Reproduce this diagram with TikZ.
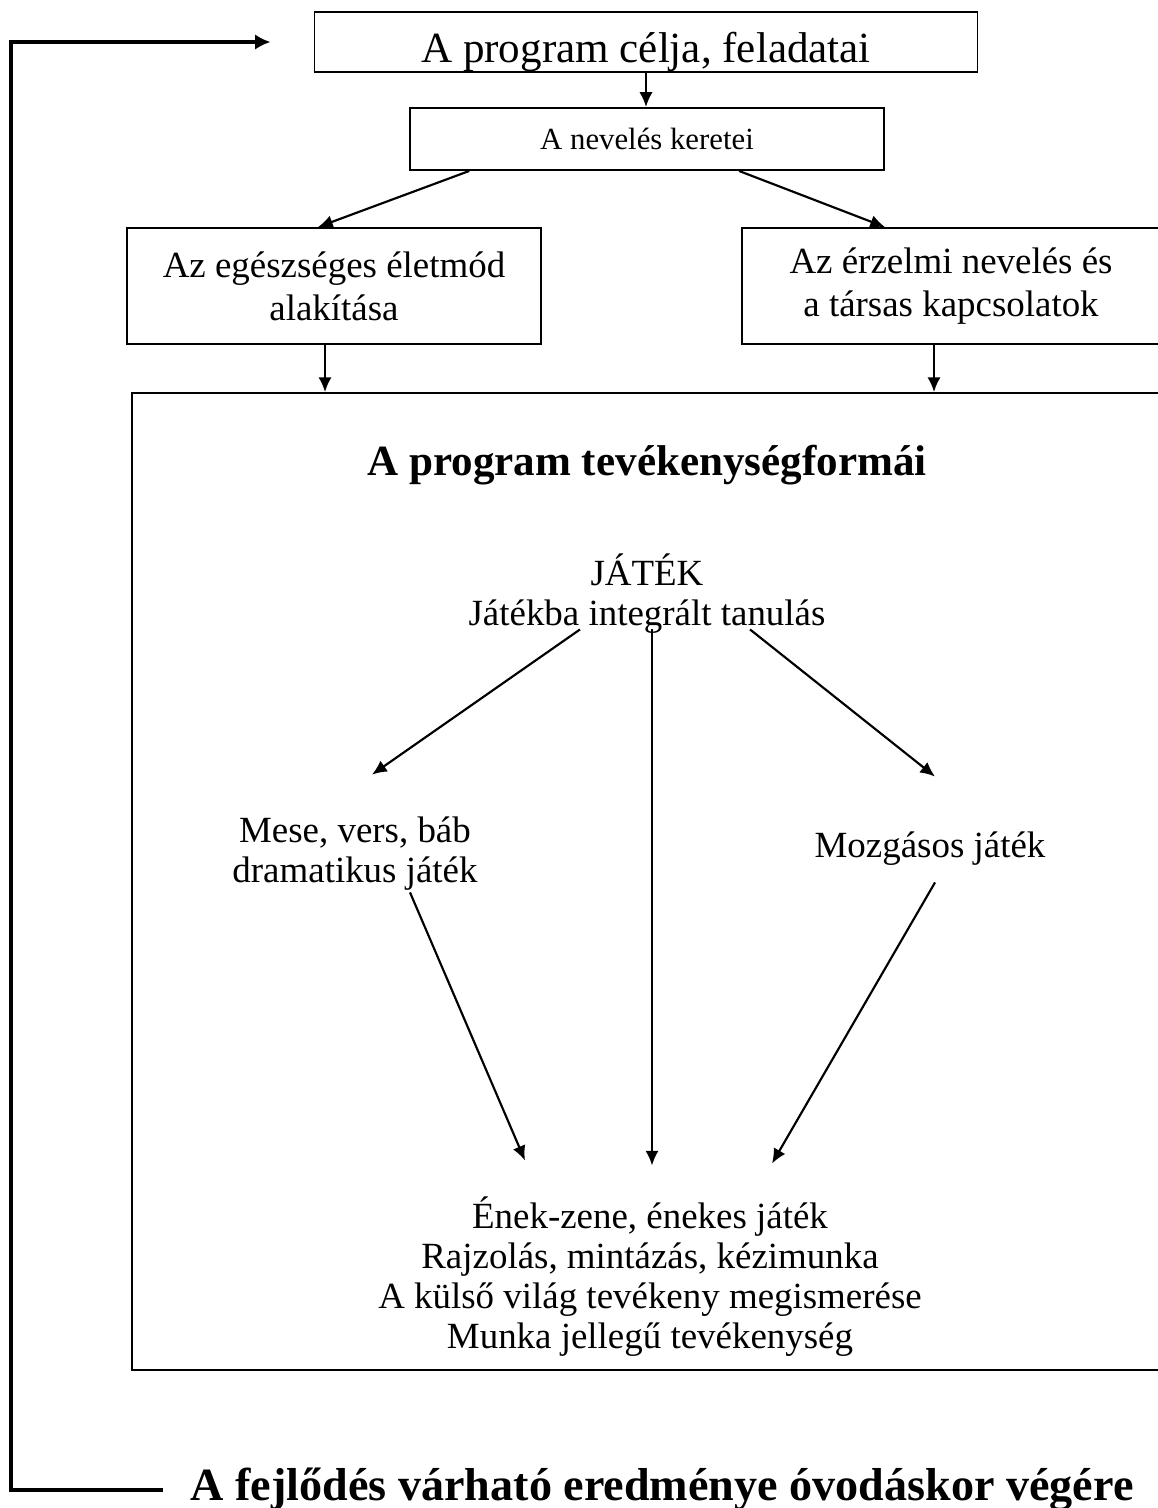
\documentclass[tikz,border=0pt]{standalone}
\usepackage{fontspec}
\setmainfont{Liberation Serif}
\usetikzlibrary{calc,arrows.meta}

\begin{document}
\begin{tikzpicture}[x=0.325pt, y=-0.325pt,
    box/.style={rectangle, draw, line width=0.6pt, inner sep=0pt, align=center},
    txt/.style={inner sep=0pt, align=center, font=\fontsize{12}{13}\selectfont},
    arr/.style={-{Latex[length=4.8pt,width=4.3pt]}, line width=0.7pt},
    feedback/.style={-{Latex[length=5pt,width=5pt]}, line width=1.3pt}]
    \useasboundingbox (0,0) rectangle (1157,1508);

    % boxes on top
    \node[box, minimum width=215.5pt, minimum height=19.5pt, text height=13.5pt, text depth=0pt,
          font=\fontsize{14}{16}\selectfont] (goals) at (646,42) {A program célja, feladatai};
    \node[box, minimum width=154pt, minimum height=20.2pt,
          font=\fontsize{10}{12}\selectfont] (neveles) at (647,139) {A nevelés keretei};
    \node[box, minimum width=134.6pt, minimum height=37.7pt,
          font=\fontsize{12}{14}\selectfont] (health) at (334,286) {Az egészséges életmód\\alakítása};
    \node[box, minimum width=135.9pt, minimum height=37.7pt,
          font=\fontsize{12}{14}\selectfont] (emotion) at (951,286) {Az érzelmi nevelés és\\a társas kapcsolatok};

    \draw[arr] (goals.south) -- (goals.south |- neveles.north);
    \draw[arr] ($(neveles.south west)+(60,0)$) -- ($(health.north)+(-16,0)$);
    \draw[arr] ($(neveles.south west)+(330,0)$) -- ($(emotion.north)+(-66,0)$);

    % frame of the activities
    \node[box, minimum width=334.1pt, minimum height=317.5pt] (forms) at (646,881.5) {};
    \draw[arr] ($(health.south)+(-9,0)$) coordinate (h) -- (h |- forms.north);
    \draw[arr] ($(emotion.south)+(-17,0)$) coordinate (e) -- (e |- forms.north);

    \node[anchor=base, inner sep=0pt, font=\fontsize{14}{16}\selectfont\bfseries] (title) at (647,476)
        {A program tevékenységformái};

    \node[txt] (jatek) at (647,594) {JÁTÉK\\Játékba integrált tanulás};
    \node[txt] (mese) at (355,854) {Mese, vers, báb\\dramatikus játék};
    \node[txt] (moz) at (930,849) {Mozgásos játék};
    \node[txt] (list) at (650,1277) {Ének-zene, énekes játék\\Rajzolás, mintázás, kézimunka\\
        A külső világ tevékeny megismerése\\Munka jellegű tevékenység};

    \draw[arr] ($(jatek.south)+(-67,-5)$) -- ($(mese.north)+(17,-42)$);
    \draw[arr] ($(jatek.south)+(5,-5)$) -- ($(list.north)+(2,-31)$);
    \draw[arr] ($(jatek.south)+(103,-5)$) -- ($(moz.north)+(5,-55)$);
    \draw[arr] ($(mese.south)+(55,1)$) -- ($(list.north)+(-125,-36)$);
    \draw[arr] ($(moz.south)+(5,16)$) -- ($(list.north)+(122,-33)$);

    % result and the way back
    \node[anchor=base west, inner sep=0pt, font=\fontsize{15}{18}\selectfont\bfseries] (result) at (190,1500)
        {A fejlődés várható eredménye óvodáskor végére};
    \draw[feedback] ($(result.base west)+(-27,-10)$) -| ($(goals.west)+(-303,0)$) -- ($(goals.west)+(-43,0)$);
\end{tikzpicture}
\end{document}
